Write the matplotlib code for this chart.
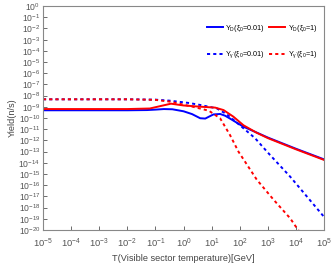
import numpy as np
import matplotlib
matplotlib.use("Agg")
import matplotlib.pyplot as plt

plt.rcParams['font.family'] = ['Liberation Sans', 'DejaVu Sans']
plt.rcParams['mathtext.default'] = 'regular'

# log10(T) and log10(Yield)
yd_001_logT = [-5, -3, -2, -1.3, -1, -0.7, -0.4, 0, 0.3, 0.59, 0.77, 1.06, 1.3, 1.48, 1.65, 2.13, 2.6, 3, 4, 5]
yd_001_logY = [-9.31, -9.31, -9.31, -9.29, -9.25, -9.2, -9.22, -9.4, -9.65, -10.02, -10.05, -9.68, -9.64, -9.8, -10.05, -10.78, -11.3, -11.75, -12.75, -13.7]

yd_1_logT = [-5, -2, -1.2, -0.8, -0.45, 0, 0.6, 1.12, 1.42, 1.77, 2.13, 2.6, 3, 4, 5]
yd_1_logY = [-9.2, -9.2, -9.15, -8.92, -8.72, -8.88, -8.99, -9.07, -9.29, -9.88, -10.65, -11.32, -11.8, -12.8, -13.75]

yg_001_logT = [-5, -2, -1, -0.5, 0.2, 0.6, 1.18, 1.54, 2.13, 2.54, 3, 3.79, 4.38, 5]
yg_001_logY = [-8.33, -8.33, -8.36, -8.45, -8.66, -8.84, -9.14, -9.67, -10.92, -11.8, -13.1, -15.24, -17.0, -18.85]

yg_1_logT = [-5, -2, -1, -0.48, 0.34, 0.9, 1.3, 1.65, 1.95, 2.6, 3.2, 3.79, 4.1]
yg_1_logY = [-8.33, -8.33, -8.38, -8.54, -9.0, -9.35, -10.03, -11.52, -13.0, -15.5, -17.3, -18.96, -20.1]

fig = plt.figure(figsize=(3.32, 2.64), dpi=100)
ax = fig.add_axes([0.1295, 0.129, 0.847, 0.848])

lw = 1.4
l1, = ax.plot(10.0**np.array(yd_001_logT), 10.0**np.array(yd_001_logY), color='#0000ff', lw=lw)
l3, = ax.plot(10.0**np.array(yg_001_logT), 10.0**np.array(yg_001_logY), color='#0000ff', lw=lw, ls=(0, (1.6, 1.6)))
l2, = ax.plot(10.0**np.array(yd_1_logT), 10.0**np.array(yd_1_logY), color='#ff0000', lw=lw)
l4, = ax.plot(10.0**np.array(yg_1_logT), 10.0**np.array(yg_1_logY), color='#ff0000', lw=lw, ls=(0, (1.6, 1.6)))

ax.set_xscale('log')
ax.set_yscale('log')
ax.set_xlim(1e-5, 1e5)
ax.set_ylim(1e-20, 1)
ax.set_xticks(10.0**np.arange(-5, 6))
ax.set_yticks(10.0**np.arange(-20, 1))
ax.minorticks_off()
ax.tick_params(direction='in', length=3, width=0.6, colors='#555555')
ax.tick_params(axis='x', pad=5, labelsize=6.8)
ax.tick_params(axis='y', pad=2, labelsize=6.2)
for s in ax.spines.values():
    s.set_color('#888888')
    s.set_linewidth(0.8)

ax.set_xlabel('T(Visible sector temperature)[GeV]', fontsize=6.6, color='#444444', labelpad=3)
ax.set_ylabel('Yield(n/s)', fontsize=6.6, color='#444444', labelpad=1)

leg = ax.legend([l1, l3, l2, l4],
                [r'Y$_D$($\xi_0$=0.01)', r"Y$_{\gamma'}$($\xi_0$=0.01)",
                 r'Y$_D$($\xi_0$=1)', r"Y$_{\gamma'}$($\xi_0$=1)"],
                ncol=2, frameon=False, fontsize=5.2, loc='upper right',
                bbox_to_anchor=(1.0, 0.955), handlelength=2.2, handletextpad=0.35,
                columnspacing=0.6, labelspacing=2.2)

fig.savefig('out.png', dpi=100)
